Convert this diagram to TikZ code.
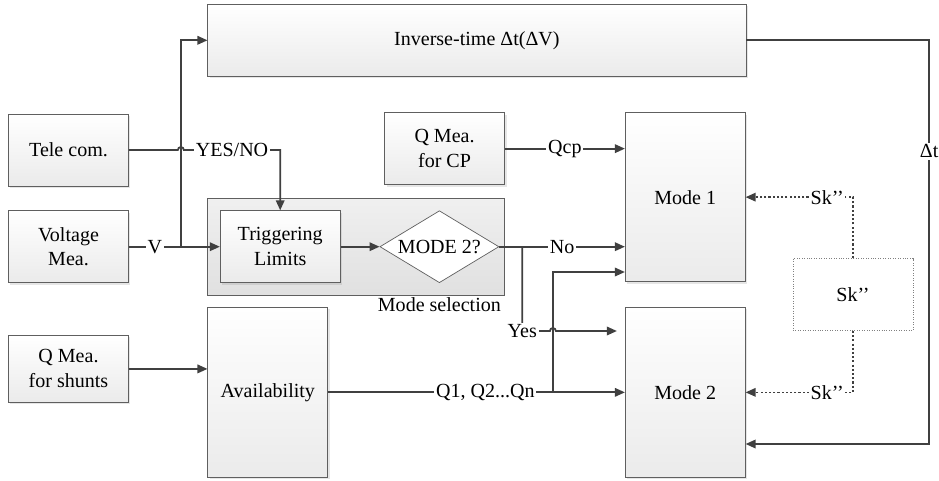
\documentclass[tikz,border=0pt]{standalone}
\usepackage{fontspec}
\setmainfont{Liberation Serif}
\usepackage{tikz}
\usetikzlibrary{shapes.geometric, arrows.meta, positioning, calc, fit, backgrounds, shadows}
\definecolor{lnclr}{RGB}{64,64,64}
\definecolor{bxdraw}{RGB}{95,95,95}

\begin{document}
\begin{tikzpicture}[node distance=0.5cm, font=\fontsize{11.4}{14.2}\selectfont,
  blk/.style={rectangle, draw=bxdraw, top color=white, bottom color=gray!16, minimum width=2.4cm, minimum height=1.44cm, align=center, drop shadow={opacity=0.2, shadow xshift=0.04cm, shadow yshift=-0.04cm}},
  tall/.style={blk, minimum height=3.4cm},
  dec/.style={diamond, draw=bxdraw, fill=white, aspect=1.65, inner sep=1pt, minimum width=2.38cm, minimum height=1.44cm},
  grp/.style={rectangle, draw=bxdraw, top color=gray!12, bottom color=gray!24, inner sep=0.24cm},
  skbox/.style={rectangle, draw=gray, densely dotted, fill=white, minimum width=2.4cm, minimum height=1.44cm},
  lbl/.style={fill=white, inner sep=1pt},
  line/.style={draw=lnclr, line width=1pt},
  arr/.style={line, -{Triangle[length=2mm, width=1.7mm]}},
  dots/.style={arr, dash pattern=on 1.2pt off 1.2pt, line width=0.9pt}
]
\useasboundingbox (-1.37,3.0) rectangle (17.41,-6.6);
\node[blk] (tele) {Tele com.};
\node[blk, below=0.48cm of tele] (volt) {Voltage\\Mea.};
\node[blk, below=1.04cm of volt, minimum height=1.34cm] (qsh) {Q Mea.\\for shunts};
\node[blk, right=1.82cm of volt] (trig) {Triggering\\Limits};
\node[dec, right=0.78cm of trig] (dia) {MODE 2?};
% mode selection
\coordinate (diar) at ($(trig.east)+(3.04cm,0)$);
\begin{scope}[on background layer]
\node[grp, fit=(trig)(diar)] (sel) {};
\end{scope}
\node[anchor=north, inner sep=1pt] (sellbl) at (sel.south -| dia) {Mode selection};
\node[blk, above=0.26cm of sel.north east, anchor=south east] (qcp) {Q Mea.\\for CP};
\node[tall, right=2.4cm of qcp.north east, anchor=north west, minimum height=3.38cm] (m1) {Mode 1};
\node[tall, below=0.5cm of m1] (m2) {Mode 2};
\node[tall, anchor=north west] (avail) at (sel.west |- m2.north) {Availability};
\node[blk, minimum width=10.76cm, anchor=south west] (inv) at ($(tele.north -| sel.west)+(0,0.74cm)$) {Inverse-time Δt(ΔV)};
\coordinate (gap) at ($(m1.south east)!0.5!(m2.north east)$);
\node[skbox, right=0.94cm of gap] (sk) {Sk’’};
% inputs
\coordinate (vj) at ($(volt.east)+(1.04cm,0)$);
\draw[arr] (volt.east) -- node[lbl]{V} (vj) -- (trig.west);
\draw[arr] (vj) |- (inv.west);
\draw[arr] (tele.east) -- ($(tele.east -| vj)+(-0.06cm,0)$) arc[start angle=180, end angle=0, radius=0.06cm] -- node[lbl]{YES/NO} (tele.east -| trig.north) -- (trig.north);
\draw[arr] (trig) -- (dia);
\draw[arr] (qsh.east) -- (qsh.east -| avail.west);
\draw[arr] (qcp.east) -- node[lbl]{Qcp} (qcp.east -| m1.west);
\draw[arr] (dia.east) -- node[lbl]{No} (dia.east -| m1.west);
% yes branch and Q lines
\coordinate (yb) at ($(dia.east)+(0.46cm,0)$);
\coordinate (qv) at ($(m2.west)+(-1.44cm,0)$);
\coordinate (yend) at ($(m2.north west)+(0,-0.48cm)$);
\draw[arr, shorten >=0.16cm] (yb) -- (yb |- yend) -- ($(qv |- yend)+(-0.06cm,0)$) arc[start angle=180, end angle=0, radius=0.06cm] -- (yend);
\node[lbl] (yes) at (yb |- yend) {Yes};
\draw[arr] (avail.east) -- node[lbl, pos=0.7]{Q1, Q2...Qn} (qv) -- (m2.west);
\draw[arr] (qv) |- ($(m1.south west)+(0,0.2cm)$);
% feedback
\coordinate (dtx) at ($(inv.east)+(3.66cm,0)$);
\coordinate (dtend) at ($(m2.north east)+(0,-2.74cm)$);
\draw[arr] (inv.east) -- (dtx) -- node[lbl, pos=0.275]{Δt} (dtx |- dtend) -- (dtend);
\draw[dots] (sk.north) |- node[lbl, pos=0.62]{Sk’’} (m1.east);
\draw[dots] (sk.south) |- node[lbl, pos=0.62]{Sk’’} (m2.east);
\end{tikzpicture}
\end{document}
